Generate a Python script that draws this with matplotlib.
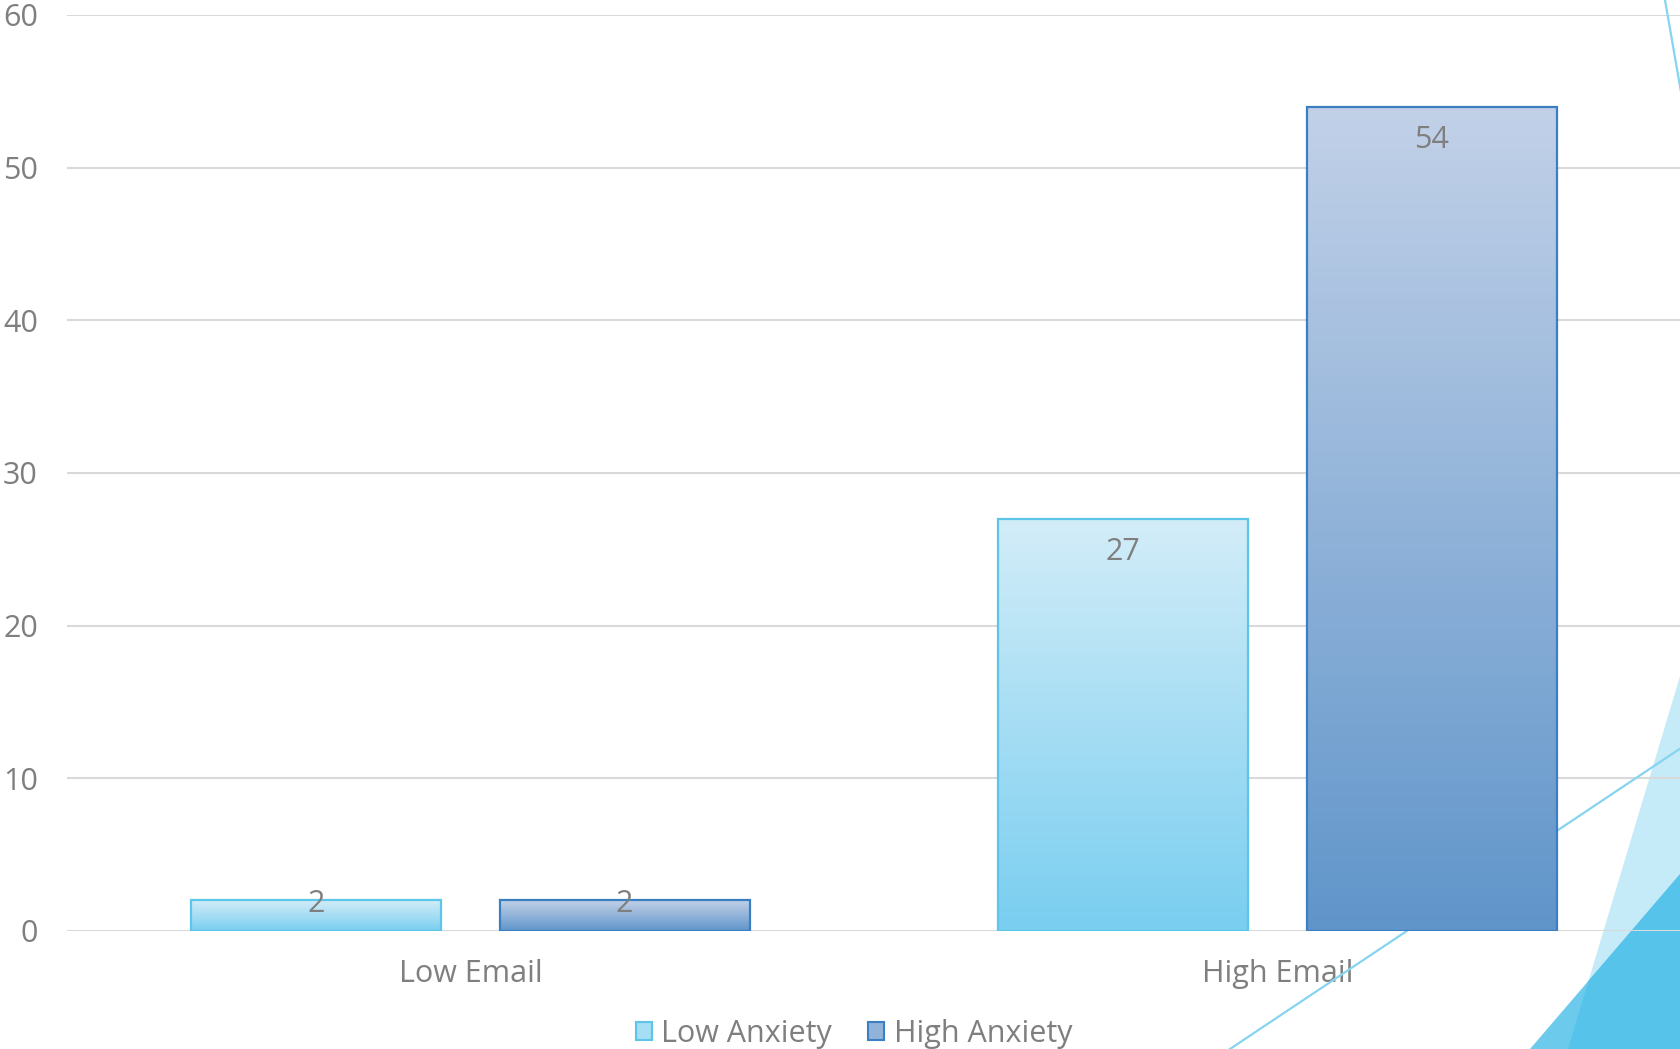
import matplotlib
matplotlib.use('Agg')
from matplotlib import pyplot as plt
from matplotlib import patches
from matplotlib.colors import LinearSegmentedColormap
import numpy as np

# data
categories = ['Low Email', 'High Email']
series_names = ['Low Anxiety', 'High Anxiety']
low_anxiety = [2, 27]
high_anxiety = [2, 54]
y_ticks = [0, 10, 20, 30, 40, 50, 60]

# styles: (top colour, bottom colour, edge colour)
styles = [('#d3edf8', '#79cef0', '#5bc5ea'),
          ('#c2d1e8', '#6095ca', '#3a7fc1')]
GREY = '#7f7f7f'
FONT = 'Open Sans'
FS = 22

W, H = 1681, 1049
fig = plt.figure(figsize=(W / 100, H / 100), dpi=100)
ax = fig.add_axes([67 / W, (H - 931) / H, 1 - 67 / W, (931 - 15) / H])

# background decoration (figure pixel coords)
def px(pts):
    return [(x / W, 1 - y / H) for x, y in pts]

fig.patches.append(patches.Polygon(px([(1681, 673), (1681, 1049), (1568, 1049)]),
                                   closed=True, transform=fig.transFigure,
                                   facecolor='#c5eaf8', edgecolor='none', zorder=-1))
fig.patches.append(patches.Polygon(px([(1681, 873), (1681, 1049), (1530, 1049)]),
                                   closed=True, transform=fig.transFigure,
                                   facecolor='#6ccbed', edgecolor='none', zorder=-1))
fig.patches.append(patches.Polygon(px([(1681, 873), (1681, 1049), (1568, 1049), (1588.5, 980.8)]),
                                   closed=True, transform=fig.transFigure,
                                   facecolor='#56c4ea', edgecolor='none', zorder=-1))
# thin lines sit behind the bars
for (x0, y0), (x1, y1) in [((1681, 748), (1230, 1049)), ((1665, 0), (1681, 92))]:
    ax.add_line(plt.Line2D([x0 / W, x1 / W], [1 - y0 / H, 1 - y1 / H], transform=fig.transFigure,
                           color='#86d4f0', lw=1.6, zorder=2, clip_on=False))

ax.patch.set_alpha(0)

x = np.arange(len(categories))
width = 0.31
offset = 0.191
for i, vals in enumerate([low_anxiety, high_anxiety]):
    top, bottom, edge = styles[i]
    cmap = LinearSegmentedColormap.from_list('g%d' % i, [bottom, top])
    bars = ax.bar(x + (i - 0.5) * 2 * offset, vals, width, facecolor='none',
                  edgecolor=edge, linewidth=1.6, zorder=3, label=series_names[i])
    for b, v in zip(bars, vals):
        bx, by = b.get_x(), b.get_y()
        grad = np.linspace(0, 1, 256).reshape(-1, 1)
        ax.imshow(grad, cmap=cmap, origin='lower', aspect='auto', zorder=2.5,
                  extent=[bx, bx + b.get_width(), by, by + b.get_height()])
        ax.text(bx + b.get_width() / 2, max(v - 2.2, 1.75), str(v), ha='center', va='center',
                color=GREY, fontsize=FS, family=FONT, zorder=4)

ax.set_xlim(-0.5, 1.5)
ax.set_ylim(0, 60)
ax.set_yticks(y_ticks)
ax.set_xticks(x)
ax.set_xticklabels(categories)
ax.grid(axis='y', color='#d9d9d9', lw=1.5, zorder=1)
ax.set_axisbelow(True)
for s in ax.spines.values():
    s.set_visible(False)
ax.tick_params(length=0, colors=GREY, labelsize=FS)
ax.tick_params(axis='y', pad=21)
ax.tick_params(axis='x', pad=20)
for lab in ax.get_xticklabels() + ax.get_yticklabels():
    lab.set_family(FONT)

handles = [patches.Patch(facecolor=np.mean([matplotlib.colors.to_rgb(s[0]), matplotlib.colors.to_rgb(s[1])], axis=0),
                         edgecolor=s[2], lw=1.5) for s in styles]
fig.legend(handles, series_names, loc='center', bbox_to_anchor=(854 / W, 1 - 1034 / H),
           ncol=2, frameon=False, handlelength=0.52, handleheight=0.52, handletextpad=0.3,
           columnspacing=1.2, prop={'family': FONT, 'size': FS}, labelcolor=GREY)

fig.savefig('out.png', dpi=100)
